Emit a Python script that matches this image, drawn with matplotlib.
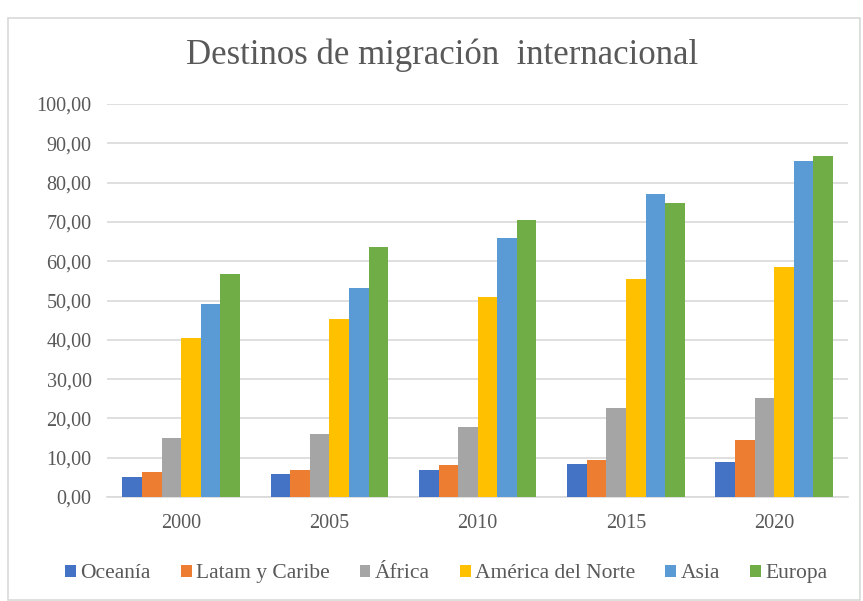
import matplotlib.pyplot as plt
import numpy as np
from matplotlib.patches import Rectangle

plt.rcParams["font.family"] = ["Liberation Serif", "DejaVu Serif"]

years = ["2000", "2005", "2010", "2015", "2020"]
regions = ["Oceanía", "Latam y Caribe", "África", "América del Norte", "Asia", "Europa"]
oceania = [5.0, 5.9, 6.8, 8.4, 9.0]
latam = [6.3, 6.9, 8.1, 9.3, 14.6]
africa = [15.0, 16.0, 17.7, 22.6, 25.1]
america_norte = [40.4, 45.4, 50.8, 55.5, 58.6]
asia = [49.1, 53.1, 66.0, 77.2, 85.6]
europa = [56.8, 63.6, 70.6, 74.8, 86.8]
series = [oceania, latam, africa, america_norte, asia, europa]
colors = ["#4472C4", "#ED7D31", "#A5A5A5", "#FFC000", "#5B9BD5", "#70AD47"]

fig = plt.figure(figsize=(8.63, 6.01), dpi=100)
ax = fig.add_axes([0.124, 0.173, 0.859, 0.654])

# chart-area border
fig.patches.append(Rectangle((8 / 863, 0.002), 852 / 863, 1 - 18 / 601 - 0.002,
                             transform=fig.transFigure, fill=False,
                             edgecolor="#D9D9D9", linewidth=1.2))

x = np.arange(len(years))
width = 0.132
offsets = (np.arange(len(series)) - (len(series) - 1) / 2) * width
for vals, off, c, name in zip(series, offsets, colors, regions):
    ax.bar(x + off, vals, width=width, color=c, label=name, zorder=3)

ax.set_ylim(0, 100)
ax.set_xlim(-0.5, len(years) - 0.5)
ax.set_yticks(np.arange(0, 101, 10))
ax.set_yticklabels([f"{v:.2f}".replace(".", ",") for v in np.arange(0, 101, 10)])
ax.set_xticks(x)
ax.set_xticklabels(years)
ax.tick_params(axis="both", length=0, labelsize=14.5, labelcolor="#595959", pad=12)
ax.tick_params(axis="y", pad=11)
ax.grid(axis="y", color="#D9D9D9", linewidth=1.2, zorder=0)
for s in ["top", "right", "left"]:
    ax.spines[s].set_visible(False)
ax.spines["bottom"].set_color("#D9D9D9")
ax.spines["bottom"].set_linewidth(1.2)

fig.text(0.512, 0.908, "Destinos de migración  internacional", ha="center", va="center",
         fontsize=25, color="#595959")

fig.legend(loc="center", bbox_to_anchor=(0.517, 0.045), ncol=6, frameon=False,
           fontsize=15.5, handlelength=0.5, handleheight=0.5, handletextpad=0.2,
           columnspacing=1.4, labelcolor="#595959")

fig.savefig("out.png", dpi=100)
